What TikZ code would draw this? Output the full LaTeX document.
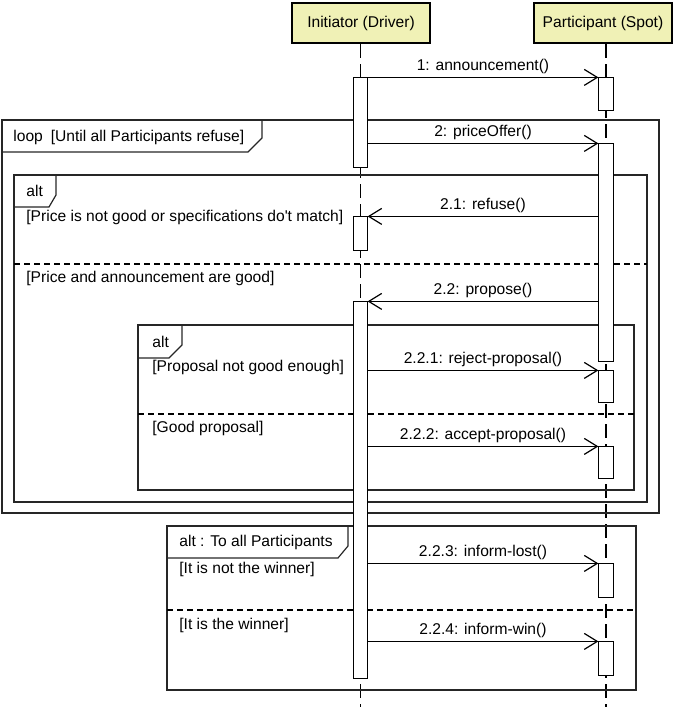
\documentclass[tikz,border=0pt]{standalone}
\usepackage{fontspec}
\setmainfont{Liberation Sans}
\usetikzlibrary{positioning}
\usetikzlibrary{fit}
\usetikzlibrary{arrows.meta}
\definecolor{hdryellow}{RGB}{240,241,182}
\tikzset{
    header/.style = {draw=black, line width=1.2pt, fill=hdryellow, minimum width=69pt, minimum height=20pt, inner sep=0pt},
    lifeline/.style = {-, line width=0.6pt, dash pattern=on 7pt off 3pt},
    actbar/.style = {draw=black, fill=white, line width=0.6pt, inner sep=0pt},
    umlframe/.style = {draw=black!85, line width=0.6pt},
    divider/.style = {-, line width=0.6pt, dash pattern=on 3pt off 2pt},
    msg/.style = {-{Straight Barb[length=6.5pt,width=8pt]}, line width=0.6pt},
    msglabel/.style = {above, inner sep=1.6pt},
    guard/.style = {anchor=west, inner sep=0pt},
}

\begin{document}
\begin{tikzpicture}[x=0.5pt, y=-0.5pt, font=\fontsize{7.8}{9}\selectfont]
  \useasboundingbox (0,0) rectangle (685,707);

  % lifeline heads
  \node[header] (init) at (361,23) {Initiator (Driver)};
  \node[header] (part) at (603,23) {Participant (Spot)};

  % activation bars
  \node[actbar, fit={(354,78) (367,167)}] (i1) {};
  \node[actbar, fit={(354,217) (367,250)}] (i2) {};
  \node[actbar, fit={(354,302) (367,678)}] (i3) {};
  \node[actbar, fit={(599,78) (613,110)}] (p1) {};
  \node[actbar, fit={(599,144) (613,361)}] (p2) {};
  \node[actbar, fit={(599,371) (613,402)}] (p3) {};
  \node[actbar, fit={(599,447) (613,478)}] (p4) {};
  \node[actbar, fit={(599,564) (613,597)}] (p5) {};
  \node[actbar, fit={(599,642) (613,675)}] (p6) {};
  \coordinate (bottom) at (0,707);

  % lifelines
  \draw[lifeline] (i1.north |- init.south) -- (i1.north |- bottom);
  \draw[lifeline] (p1.north |- part.south) -- (p1.north |- bottom);

  % loop frame
  \draw[umlframe] (2,120) rectangle (659,513);
  \draw[umlframe] (2,152) -- (248,152) -- (262,138) -- (262,120);
  \node[guard] (looplbl) at (13,137) {loop\hspace{4pt}[Until all Participants refuse]};

  % alt frame (price)
  \draw[umlframe] (14,175) rectangle (647,502);
  \draw[umlframe] (14,207) -- (49,207) -- (56,195) -- (56,175);
  \node[guard] (alt1) at (26,191) {alt};
  \node[guard] (g11) at (26,217) {[Price is not good or specifications do\textquotesingle t match]};
  \draw[divider] (14,264) -- (647,264);
  \node[guard] (g12) at (26,278) {[Price and announcement are good]};

  % alt frame (proposal)
  \draw[umlframe] (138,325) rectangle (634,490);
  \draw[umlframe] (138,358) -- (169,358) -- (182,345) -- (182,325);
  \node[guard] (alt2) at (152,342) {alt};
  \node[guard] (g21) at (152,367) {[Proposal not good enough]};
  \draw[divider] (138,414) -- (634,414);
  \node[guard] (g22) at (152,428) {[Good proposal]};

  % alt frame (inform)
  \draw[umlframe] (167,526) rectangle (636,690);
  \draw[umlframe] (167,558) -- (338,558) -- (348,546) -- (348,526);
  \node[guard] (alt3) at (179,542) {alt : To all Participants};
  \node[guard] (g31) at (179,569) {[It is not the winner]};
  \draw[divider] (167,610) -- (636,610);
  \node[guard] (g32) at (179,625) {[It is the winner]};

  % bars again on top of frames
  \foreach \b in {i1,i2,i3,p1,p2,p3,p4,p5,p6}
    \draw[actbar] (\b.north west) rectangle (\b.south east);

  % messages
  \draw[msg] (i1.north east) -- (p1.north west) node[msglabel, midway] (m1) {1: announcement()};
  \draw[msg] (i1.east |- p2.north) -- (p2.north west) node[msglabel, midway] (m2) {2: priceOffer()};
  \draw[msg] (p2.west |- i2.north) -- (i2.north east) node[msglabel, midway] (m21) {2.1: refuse()};
  \draw[msg] (p2.west |- i3.north) -- (i3.north east) node[msglabel, midway] (m22) {2.2: propose()};
  \draw[msg] (i3.east |- p3.north) -- (p3.north west) node[msglabel, midway] (m221) {2.2.1: reject-proposal()};
  \draw[msg] (i3.east |- p4.north) -- (p4.north west) node[msglabel, midway] (m222) {2.2.2: accept-proposal()};
  \draw[msg] (i3.east |- p5.north) -- (p5.north west) node[msglabel, midway] (m223) {2.2.3: inform-lost()};
  \draw[msg] (i3.east |- p6.north) -- (p6.north west) node[msglabel, midway] (m224) {2.2.4: inform-win()};
\end{tikzpicture}
\end{document}
